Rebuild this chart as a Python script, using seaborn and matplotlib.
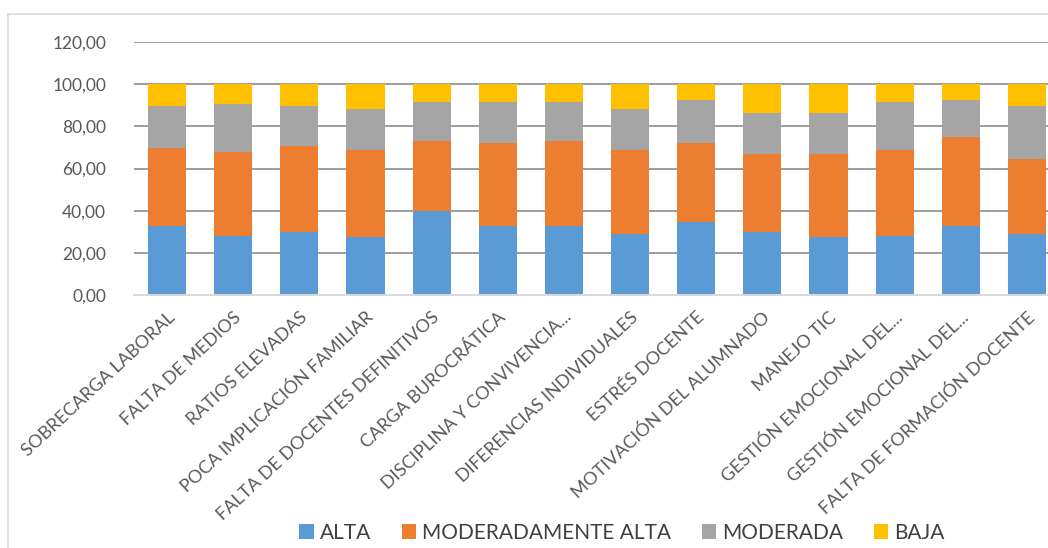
import numpy as np
import pandas as pd
import seaborn as sns
import matplotlib.pyplot as plt
from matplotlib.patches import Rectangle, Patch
from matplotlib.ticker import FuncFormatter

categories = ['SOBRECARGA LABORAL', 'FALTA DE MEDIOS', 'RATIOS ELEVADAS',
              'POCA IMPLICACIÓN FAMILIAR', 'FALTA DE DOCENTES DEFINITIVOS',
              'CARGA BUROCRÁTICA', 'DISCIPLINA Y CONVIVENCIA...',
              'DIFERENCIAS INDIVIDUALES', 'ESTRÉS DOCENTE',
              'MOTIVACIÓN DEL ALUMNADO', 'MANEJO TIC',
              'GESTIÓN EMOCIONAL DEL...', 'GESTIÓN EMOCIONAL DEL...',
              'FALTA DE FORMACIÓN DOCENTE']
alta = [32.5, 28.1, 29.8, 27.3, 39.7, 32.5, 32.5, 29.0, 34.4, 29.8, 27.3, 28.1, 32.5, 29.0]
mod_alta = [37.2, 39.7, 40.7, 41.4, 33.5, 39.7, 40.7, 39.7, 37.8, 37.2, 39.7, 40.6, 42.4, 35.3]
moderada = [20.1, 23.0, 19.3, 19.4, 18.4, 19.4, 18.4, 19.4, 20.3, 19.2, 19.2, 22.9, 17.6, 25.5]
baja = [10.2, 9.2, 10.2, 11.9, 8.4, 8.4, 8.4, 11.9, 7.5, 13.8, 13.8, 8.4, 7.5, 10.2]
series = ['ALTA', 'MODERADAMENTE ALTA', 'MODERADA', 'BAJA']
colors = ['#5B9BD5', '#ED7D31', '#A5A5A5', '#FFC000']

sns.set_style('white')
plt.rcParams['font.family'] = ['Lato', 'DejaVu Sans']

# position index so repeated labels stay separate bars
df = pd.DataFrame({'pos': range(len(categories)), 'ALTA': alta,
                   'MODERADAMENTE ALTA': mod_alta, 'MODERADA': moderada, 'BAJA': baja})
cum = df[series].cumsum(axis=1)

fig = plt.figure(figsize=(10.48, 5.48), dpi=100)
ax = fig.add_axes([134/1048, 253/548, 926/1048, 253/548])
ax.set_zorder(1)

#draw from the total down so each layer covers the one below
for s, c in zip(series[::-1], colors[::-1]):
    sns.barplot(x=df['pos'], y=cum[s], ax=ax, color=c, width=0.575,
                saturation=1, edgecolor='none', zorder=2)

ax.set_ylim(0, 120)
ax.set_yticks(np.arange(0, 121, 20))
ax.yaxis.set_major_formatter(FuncFormatter(lambda v, p: f'{v:.2f}'.replace('.', ',')))
ax.grid(axis='y', color='#8c8c8c', linewidth=1.2, zorder=0)
ax.set_axisbelow(True)
for sp in ['top', 'right', 'left']:
    ax.spines[sp].set_visible(False)
ax.spines['bottom'].set_color('#d9d9d9')
ax.spines['bottom'].set_linewidth(1.5)
ax.tick_params(axis='y', length=0, pad=20, labelsize=12.5, labelcolor='#595959')
ax.tick_params(axis='x', length=0, pad=10)
ax.set_xticks(range(len(categories)))
ax.set_xticklabels(categories, rotation=43, ha='right', rotation_mode='anchor',
                   fontsize=13, color='#595959')
ax.set_xlabel('')
ax.set_ylabel('')
ax.set_xlim(-0.5, len(categories) - 0.5)

fig.patches.append(Rectangle((8/1048, -0.05), 1.1, (548-14)/548 + 0.05,
                             transform=fig.transFigure, fill=False,
                             edgecolor='#d9d9d9', linewidth=1.2))

handles = [Patch(facecolor=c, edgecolor='none') for c in colors]
fig.legend(handles, series, loc='center', bbox_to_anchor=(622/1048, 1 - 533/548),
           ncol=4, frameon=False, fontsize=15, handlelength=0.7, handleheight=0.7,
           handletextpad=0.3, columnspacing=1.45, labelcolor='#404040')

plt.savefig('out.png', dpi=100)
